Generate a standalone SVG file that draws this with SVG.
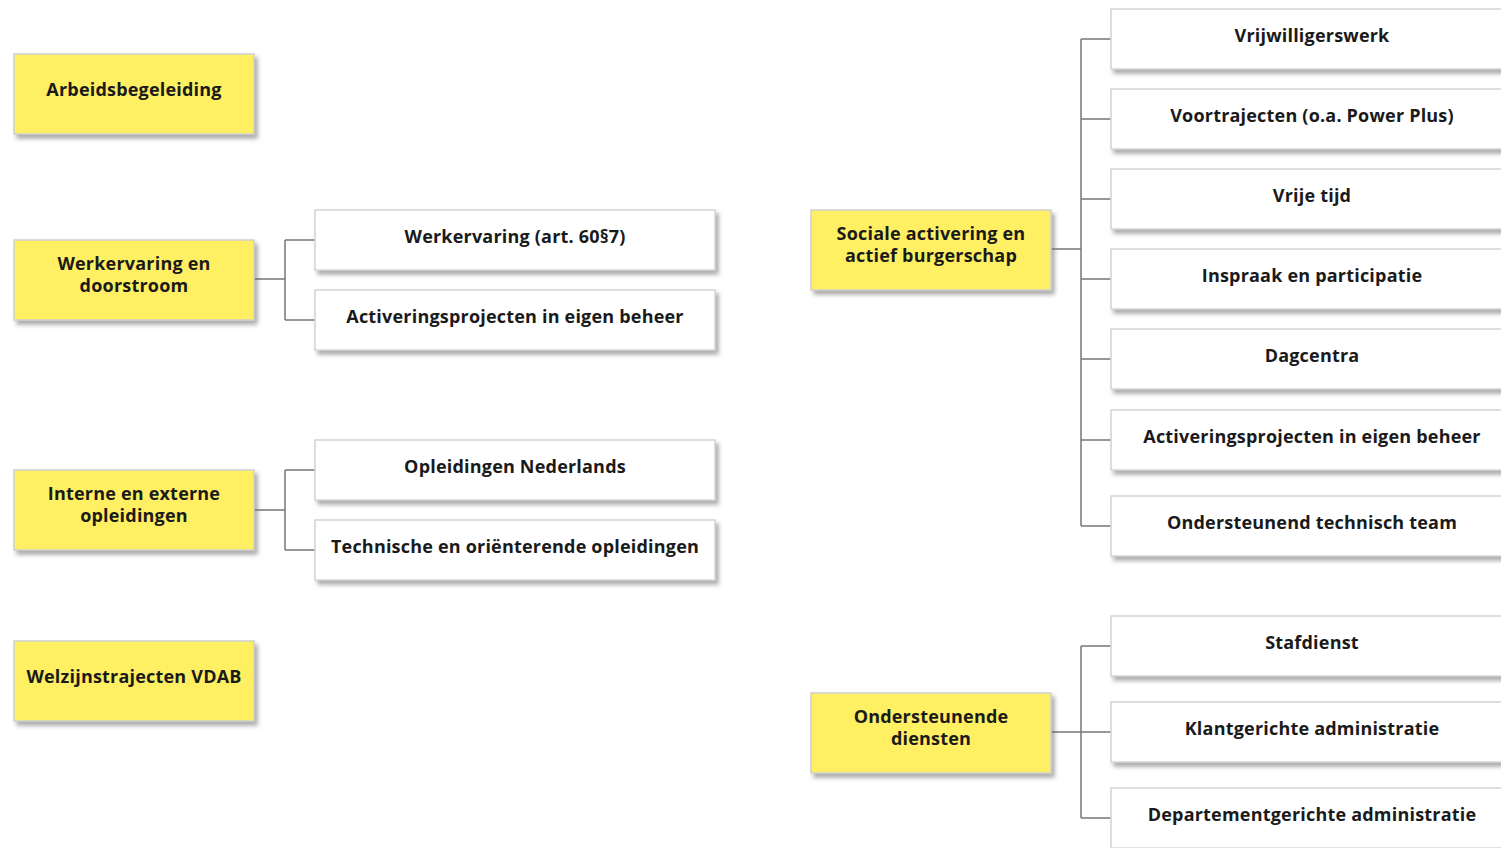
<svg xmlns="http://www.w3.org/2000/svg" width="1501" height="848" viewBox="0 0 1501 848">
<defs>
<filter id="sh" x="-10%" y="-20%" width="130%" height="160%">
<feDropShadow dx="3" dy="4" stdDeviation="2" flood-color="#666" flood-opacity="0.55"/>
</filter>
<style>
.y{fill:#fef062;stroke:#cfcfcf;stroke-width:1.5;filter:url(#sh)}
.w{fill:#fff;stroke:#d4d4d4;stroke-width:1.5;filter:url(#sh)}
text{font-family:"Open Sans","Liberation Sans",sans-serif;font-weight:700;font-size:18px;letter-spacing:0.2px;fill:#1a1a1a;text-anchor:middle}
.c{fill:none;stroke:#777;stroke-width:1.5}
</style>
</defs>
<rect width="1501" height="848" fill="#fff"/>
<g id="connectors">
<path class="c" d="M254 279H285M285 240V320M285 240H315M285 320H315"/>
<path class="c" d="M254 510H285M285 470V550M285 470H315M285 550H315"/>
<path class="c" d="M1051 249H1081M1081 39V526M1081 39H1111M1081 119H1111M1081 199H1111M1081 279H1111M1081 359H1111M1081 440H1111M1081 526H1111"/>
<path class="c" d="M1051 732H1081M1081 646V818M1081 646H1111M1081 732H1111M1081 818H1111"/>
</g>
<g id="n-arbeid"><rect class="y" x="14" y="54" width="240" height="80"/><text x="134" y="96">Arbeidsbegeleiding</text></g>
<g id="n-werkervaring"><rect class="y" x="14" y="240" width="240" height="80"/><text x="134" y="270">Werkervaring en</text><text x="134" y="292">doorstroom</text></g>
<g id="n-interne"><rect class="y" x="14" y="470" width="240" height="80"/><text x="134" y="500">Interne en externe</text><text x="134" y="522">opleidingen</text></g>
<g id="n-welzijn"><rect class="y" x="14" y="641" width="240" height="80"/><text x="134" y="683">Welzijnstrajecten VDAB</text></g>
<g id="n-werk60"><rect class="w" x="315" y="210" width="400" height="60"/><text x="515" y="243">Werkervaring (art. 60§7)</text></g>
<g id="n-activ1"><rect class="w" x="315" y="290" width="400" height="60"/><text x="515" y="323">Activeringsprojecten in eigen beheer</text></g>
<g id="n-oplned"><rect class="w" x="315" y="440" width="400" height="60"/><text x="515" y="473">Opleidingen Nederlands</text></g>
<g id="n-techn"><rect class="w" x="315" y="520" width="400" height="60"/><text x="515" y="553">Technische en oriënterende opleidingen</text></g>
<g id="n-sociale"><rect class="y" x="811" y="210" width="240" height="80"/><text x="931" y="240">Sociale activering en</text><text x="931" y="262">actief burgerschap</text></g>
<g id="n-onderst"><rect class="y" x="811" y="693" width="240" height="80"/><text x="931" y="723">Ondersteunende</text><text x="931" y="745">diensten</text></g>
<g id="n-vrijw"><rect class="w" x="1111" y="9" width="410" height="60"/><text x="1312" y="42">Vrijwilligerswerk</text></g>
<g id="n-voortr"><rect class="w" x="1111" y="89" width="410" height="60"/><text x="1312" y="122">Voortrajecten (o.a. Power Plus)</text></g>
<g id="n-vrije"><rect class="w" x="1111" y="169" width="410" height="60"/><text x="1312" y="202">Vrije tijd</text></g>
<g id="n-inspraak"><rect class="w" x="1111" y="249" width="410" height="60"/><text x="1312" y="282">Inspraak en participatie</text></g>
<g id="n-dagc"><rect class="w" x="1111" y="329" width="410" height="60"/><text x="1312" y="362">Dagcentra</text></g>
<g id="n-activ2"><rect class="w" x="1111" y="410" width="410" height="60"/><text x="1312" y="443">Activeringsprojecten in eigen beheer</text></g>
<g id="n-techteam"><rect class="w" x="1111" y="496" width="410" height="60"/><text x="1312" y="529">Ondersteunend technisch team</text></g>
<g id="n-staf"><rect class="w" x="1111" y="616" width="410" height="60"/><text x="1312" y="649">Stafdienst</text></g>
<g id="n-klant"><rect class="w" x="1111" y="702" width="410" height="60"/><text x="1312" y="735">Klantgerichte administratie</text></g>
<g id="n-dept"><rect class="w" x="1111" y="788" width="410" height="60"/><text x="1312" y="821">Departementgerichte administratie</text></g>
</svg>
